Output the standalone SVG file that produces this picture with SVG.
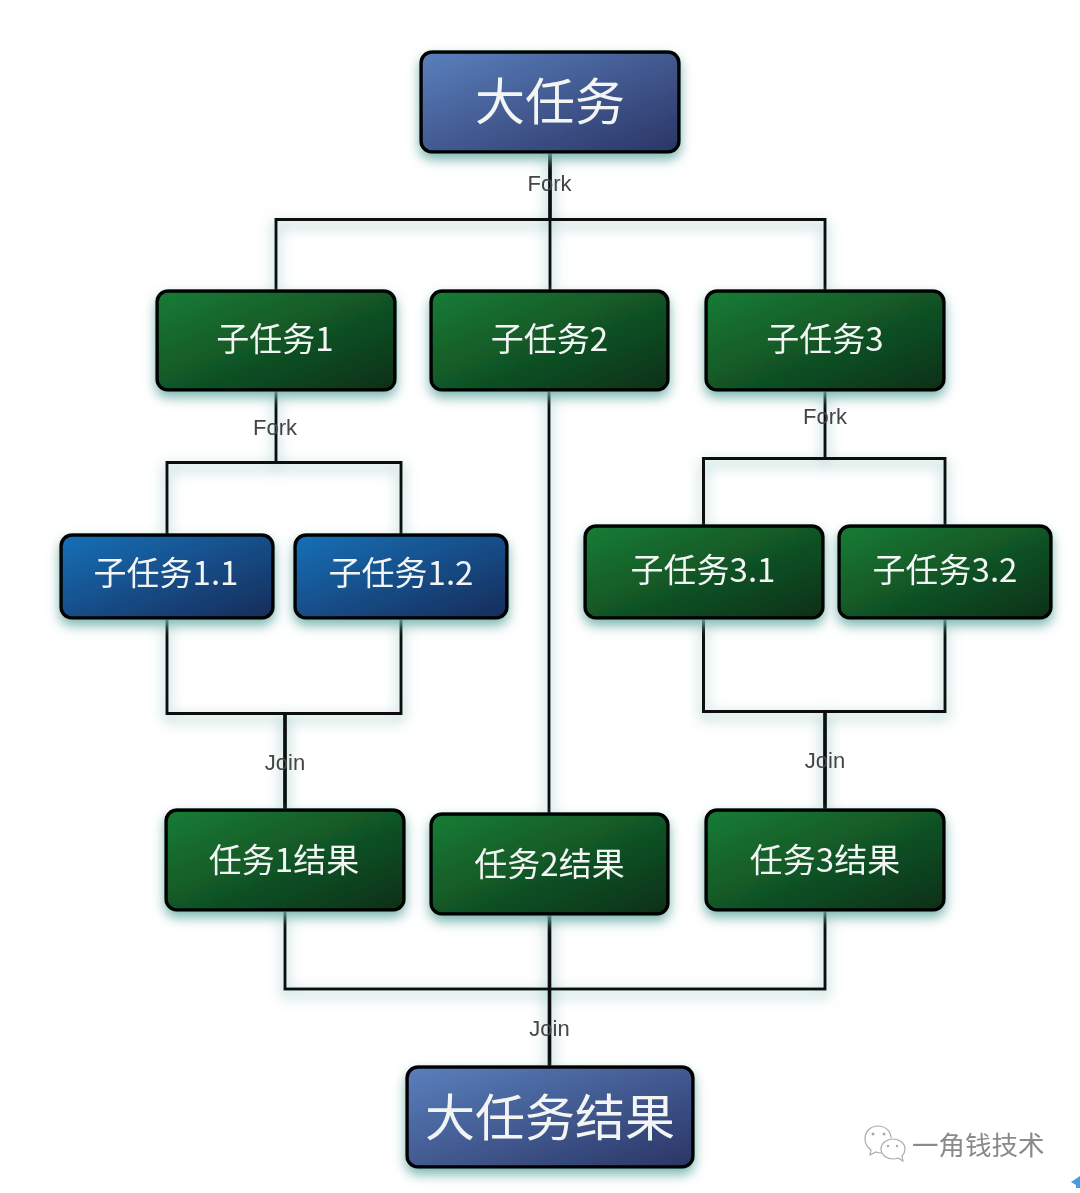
<svg xmlns="http://www.w3.org/2000/svg" width="1080" height="1193" viewBox="0 0 1080 1193">
<style>
.box{stroke:#000;stroke-width:3.500}
.big{fill:url(#gPurple)}
.green{fill:url(#gGreen)}
.blue{fill:url(#gBlue)}
.t{font-family:"Noto Sans CJK SC","Liberation Sans",sans-serif;fill:#f2f5f3;text-anchor:middle;dominant-baseline:central}
.t1{font-size:50px}
.t2{font-size:33px}
.lbl{font-family:"Liberation Sans",sans-serif;font-size:22px;fill:#444;text-anchor:middle;dominant-baseline:central}
.wire{fill:none;stroke:#0c0d0d;stroke-width:3}
.stem{fill:none;stroke:#0c0d0d;stroke-width:3.800}
.wm{font-family:"Noto Sans CJK SC",sans-serif;font-size:26.500px;fill:#8a8a8a;dominant-baseline:central}
</style>
<defs>
<linearGradient id="gPurple" x1="0" y1="0" x2="1" y2="1"><stop offset="0" stop-color="#5a80bd"/><stop offset="1" stop-color="#2a3565"/></linearGradient>
<linearGradient id="gGreen" x1="0" y1="0" x2="1" y2="1"><stop offset="0" stop-color="#177d35"/><stop offset="1" stop-color="#0c2f17"/></linearGradient>
<linearGradient id="gBlue" x1="0" y1="0" x2="1" y2="1"><stop offset="0" stop-color="#1270b8"/><stop offset="1" stop-color="#152c59"/></linearGradient>
<filter id="sh" x="-20%" y="-30%" width="140%" height="170%"><feGaussianBlur in="SourceAlpha" stdDeviation="6" result="b"/><feOffset in="b" dy="6" result="o"/><feFlood flood-color="#6fb0a8" flood-opacity="0.9"/><feComposite in2="o" operator="in" result="s"/><feGaussianBlur in="SourceGraphic" stdDeviation="0.45" result="g"/><feMerge><feMergeNode in="s"/><feMergeNode in="g"/></feMerge></filter>
<filter id="wsh" filterUnits="userSpaceOnUse" x="0" y="0" width="1080" height="1193"><feGaussianBlur in="SourceAlpha" stdDeviation="7" result="b"/><feOffset in="b" dy="5" result="o"/><feFlood flood-color="#6fb0a8" flood-opacity="1"/><feComposite in2="o" operator="in" result="s"/><feGaussianBlur in="SourceGraphic" stdDeviation="0.6" result="g"/><feMerge><feMergeNode in="s"/><feMergeNode in="g"/></feMerge></filter>
<filter id="soft" x="-5%" y="-5%" width="110%" height="110%"><feGaussianBlur stdDeviation="0.6"/></filter>
</defs>
<rect width="1080" height="1193" fill="#fff"/>
<g id="connectors" filter="url(#wsh)">
<path class="stem" d="M550 152V219"/>
<path class="wire" d="M550 219V290M276 290V219.500H825V290"/>
<path class="wire" d="M276 390V462.500M167 535V462.500H401V535"/>
<path class="wire" d="M549 390V814"/>
<path class="wire" d="M825 390V458.500M703.500 526V458.500H945V526"/>
<path class="wire" d="M167 618V713.500H401V618"/>
<path class="stem" d="M285 712V810"/>
<path class="wire" d="M703.500 618V711.500H945V618"/>
<path class="stem" d="M825 711V810"/>
<path class="wire" d="M285 910V989H825V910"/>
<path class="stem" d="M549.500 914V1067"/>
</g>
<g filter="url(#soft)">
<text class="lbl" x="549.500" y="183">Fork</text>
<text class="lbl" x="275" y="427">Fork</text>
<text class="lbl" x="825" y="416">Fork</text>
<text class="lbl" x="285" y="762">Join</text>
<text class="lbl" x="825" y="760">Join</text>
<text class="lbl" x="549.500" y="1028">Join</text>
</g>
<g id="n-main" filter="url(#sh)"><rect class="box big" x="421" y="52" width="258" height="100" rx="11"/><text class="t t1" x="550" y="98">大任务</text></g>
<g id="n-s1" filter="url(#sh)"><rect class="box green" x="157" y="291" width="238" height="99" rx="11"/><text class="t t2" x="275" y="337">子任务1</text></g>
<g id="n-s2" filter="url(#sh)"><rect class="box green" x="431" y="291" width="237" height="99" rx="11"/><text class="t t2" x="549.500" y="337">子任务2</text></g>
<g id="n-s3" filter="url(#sh)"><rect class="box green" x="706" y="291" width="238" height="99" rx="11"/><text class="t t2" x="825" y="337">子任务3</text></g>
<g id="n-s11" filter="url(#sh)"><rect class="box blue" x="61" y="535" width="212" height="83" rx="11"/><text class="t t2" x="166" y="571">子任务1.1</text></g>
<g id="n-s12" filter="url(#sh)"><rect class="box blue" x="295" y="535" width="212" height="83" rx="11"/><text class="t t2" x="401" y="571">子任务1.2</text></g>
<g id="n-s31" filter="url(#sh)"><rect class="box green" x="585" y="526" width="238" height="92" rx="11"/><text class="t t2" x="703" y="568">子任务3.1</text></g>
<g id="n-s32" filter="url(#sh)"><rect class="box green" x="839" y="526" width="212" height="92" rx="11"/><text class="t t2" x="945" y="568">子任务3.2</text></g>
<g id="n-r1" filter="url(#sh)"><rect class="box green" x="166" y="810" width="238" height="100" rx="11"/><text class="t t2" x="284" y="858">任务1结果</text></g>
<g id="n-r2" filter="url(#sh)"><rect class="box green" x="431" y="814" width="237" height="100" rx="11"/><text class="t t2" x="549.500" y="862">任务2结果</text></g>
<g id="n-r3" filter="url(#sh)"><rect class="box green" x="706" y="810" width="238" height="100" rx="11"/><text class="t t2" x="825" y="858">任务3结果</text></g>
<g id="n-result" filter="url(#sh)"><rect class="box big" x="407" y="1067" width="286" height="100" rx="11"/><text class="t t1" x="550" y="1114">大任务结果</text></g>
<g id="watermark" filter="url(#soft)">
<path d="M891 1138c0-7-6-12-13-12s-13 5-13 13c0 5 2 8 6 11l-1 5 6-3c2 1 4 1 6 1" fill="#fff" stroke="#aaa" stroke-width="1.200"/>
<path d="M905 1149c0-6-6-10-12-10s-12 4-12 10 6 10 12 10c2 0 3 0 5-1l5 3-1-5c2-2 3-4 3-7z" fill="#fff" stroke="#aaa" stroke-width="1.200"/>
<circle cx="873" cy="1134" r="1.500" fill="#aaa"/><circle cx="884" cy="1134" r="1.500" fill="#aaa"/><circle cx="888" cy="1146" r="1.200" fill="#aaa"/><circle cx="897" cy="1146" r="1.200" fill="#aaa"/>
<text class="wm" x="912" y="1143">一角钱技术</text>
<path d="M1080 1176l-9 6 5 3v3h4z" fill="#4a9be0"/>
</g>
</svg>
